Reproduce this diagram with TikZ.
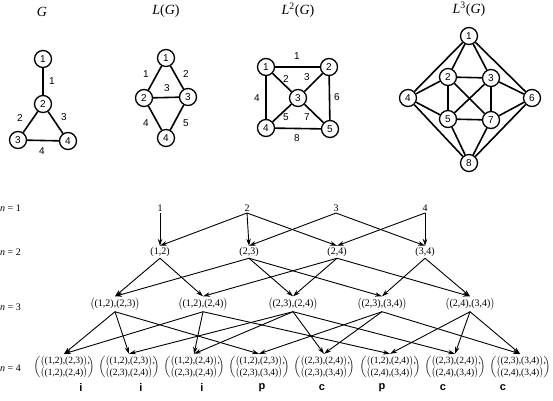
\documentclass[tikz,border=0pt]{standalone}
\usepackage{amsmath}
\usepackage{fontspec}
\setmainfont{Liberation Serif}
\setsansfont{Liberation Sans}
\usepackage{tikz}
\usetikzlibrary{arrows.meta}

\newcommand{\pairof}[2]{\bigl(\text{(#1),(#2)}\bigr)}
\newcommand{\twopair}[4]{$\begin{pmatrix}\pairof{#1}{#2}\rlap{,}\\ \pairof{#3}{#4}\end{pmatrix}$}

\begin{document}
\begin{tikzpicture}[x=1pt,y=-1pt,
  vertex/.style={shape=circle,draw,line width=1.3pt,minimum size=17pt,inner sep=0pt,font=\sffamily\fontsize{10}{12}\selectfont},
  elabel/.style={inner sep=0pt,font=\sffamily\fontsize{10}{12}\selectfont},
  gedge/.style={line width=1.6pt},
  gtitle/.style={font=\fontsize{14}{16}\selectfont},
  rowlabel/.style={anchor=east,inner sep=0pt,font=\fontsize{10}{12}\selectfont},
  entry/.style={inner sep=1.5pt,font=\fontsize{10}{12}\selectfont},
  quad/.style={inner sep=1.5pt,font=\fontsize{9.5}{11.5}\selectfont},
  cls/.style={font=\sffamily\bfseries\fontsize{11}{13}\selectfont},
  arr/.style={-{Stealth[length=7pt,width=4.5pt]},line width=0.9pt}]
\useasboundingbox (0,0) rectangle (553,400);

% the graph G and its line graphs
\node[gtitle] (tg) at (42,12) {\textit{G}};
\node[gtitle] (tl) at (166,11) {\textit{L}(\textit{G})};
\node[gtitle] (tm) at (298,10) {\textit{L}\textsuperscript{2}(\textit{G})};
\node[gtitle] (tt) at (469,9) {\textit{L}\textsuperscript{3}(\textit{G})};

\node[vertex] (g1) at (43,59) {1};
\node[vertex] (g2) at (43,104) {2};
\node[vertex] (g3) at (18,140) {3};
\node[vertex] (g4) at (68,141) {4};
\draw[gedge] (g1) -- (g2);
\draw[gedge] (g2) -- (g3);
\draw[gedge] (g2) -- (g4);
\draw[gedge] (g3) -- (g4);
\node[elabel] (ge1) at (52,81) {1};
\node[elabel] (ge2) at (20,118) {2};
\node[elabel] (ge3) at (64,117) {3};
\node[elabel] (ge4) at (42,151) {4};

\node[vertex] (l1) at (166,58) {1};
\node[vertex] (l2) at (144,98) {2};
\node[vertex] (l3) at (188,97) {3};
\node[vertex] (l4) at (166,138) {4};
\draw[gedge] (l1) -- (l2);
\draw[gedge] (l1) -- (l3);
\draw[gedge] (l2) -- (l3);
\draw[gedge] (l2) -- (l4);
\draw[gedge] (l3) -- (l4);
\node[elabel] (le1) at (146,74) {1};
\node[elabel] (le2) at (186,74) {2};
\node[elabel] (le3) at (167,88) {3};
\node[elabel] (le4) at (146,123) {4};
\node[elabel] (le5) at (186,123) {5};

\node[vertex] (m1) at (266,67) {1};
\node[vertex] (m2) at (329,67) {2};
\node[vertex] (m3) at (298,98) {3};
\node[vertex] (m4) at (266,128) {4};
\node[vertex] (m5) at (330,129) {5};
\draw[gedge] (m1) -- (m2);
\draw[gedge] (m1) -- (m3);
\draw[gedge] (m2) -- (m3);
\draw[gedge] (m1) -- (m4);
\draw[gedge] (m2) -- (m5);
\draw[gedge] (m3) -- (m4);
\draw[gedge] (m3) -- (m5);
\draw[gedge] (m4) -- (m5);
\node[elabel] (me1) at (297,56) {1};
\node[elabel] (me2) at (286,79) {2};
\node[elabel] (me3) at (307,77) {3};
\node[elabel] (me4) at (257,98) {4};
\node[elabel] (me5) at (286,117) {5};
\node[elabel] (me6) at (337,97) {6};
\node[elabel] (me7) at (307,117) {7};
\node[elabel] (me8) at (297,138) {8};

\node[vertex] (t1) at (469,36) {1};
\node[vertex] (t2) at (448,77) {2};
\node[vertex] (t3) at (491,78) {3};
\node[vertex] (t4) at (408,98) {4};
\node[vertex] (t5) at (448,119) {5};
\node[vertex] (t6) at (532,98) {6};
\node[vertex] (t7) at (491,120) {7};
\node[vertex] (t8) at (469,163) {8};
\draw[gedge] (t1) -- (t2);
\draw[gedge] (t1) -- (t3);
\draw[gedge] (t1) -- (t4);
\draw[gedge] (t1) -- (t6);
\draw[gedge] (t2) -- (t3);
\draw[gedge] (t2) -- (t4);
\draw[gedge] (t2) -- (t5);
\draw[gedge] (t2) -- (t7);
\draw[gedge] (t3) -- (t5);
\draw[gedge] (t3) -- (t6);
\draw[gedge] (t3) -- (t7);
\draw[gedge] (t4) -- (t5);
\draw[gedge] (t4) -- (t8);
\draw[gedge] (t5) -- (t7);
\draw[gedge] (t5) -- (t8);
\draw[gedge] (t6) -- (t7);
\draw[gedge] (t6) -- (t8);
\draw[gedge] (t7) -- (t8);

% levels n = 1 .. 4
\node[rowlabel] (n1) at (21,208) {\textit{n} = 1};
\node[rowlabel] (n2) at (21,252) {\textit{n} = 2};
\node[rowlabel] (n3) at (21,307) {\textit{n} = 3};
\node[rowlabel] (n4) at (21,368) {\textit{n} = 4};

\node[entry] (a1) at (160,208) {1};
\node[entry] (a2) at (247,208) {2};
\node[entry] (a3) at (336,208) {3};
\node[entry] (a4) at (425,208) {4};

\node[entry] (b12) at (160,252) {(1,2)};
\node[entry] (b23) at (249,252) {(2,3)};
\node[entry] (b24) at (337,252) {(2,4)};
\node[entry] (b34) at (425,252) {(3,4)};

\node[entry] (c1) at (115,304) {$\pairof{1,2}{2,3}$};
\node[entry] (c2) at (203,304) {$\pairof{1,2}{2,4}$};
\node[entry] (c3) at (293,304) {$\pairof{2,3}{2,4}$};
\node[entry] (c4) at (382,304) {$\pairof{2,3}{3,4}$};
\node[entry] (c5) at (470,304) {$\pairof{2,4}{3,4}$};

\node[quad] (d1) at (64,367) {\twopair{1,2}{2,3}{1,2}{2,4}};
\node[quad] (d2) at (129,367) {\twopair{1,2}{2,3}{2,3}{2,4}};
\node[quad] (d3) at (194,367) {\twopair{1,2}{2,4}{2,3}{2,4}};
\node[quad] (d4) at (259,367) {\twopair{1,2}{2,3}{2,3}{3,4}};
\node[quad] (d5) at (324,367) {\twopair{2,3}{2,4}{2,3}{3,4}};
\node[quad] (d6) at (390,367) {\twopair{1,2}{2,4}{2,4}{3,4}};
\node[quad] (d7) at (455,367) {\twopair{2,3}{2,4}{2,4}{3,4}};
\node[quad] (d8) at (520,367) {\twopair{2,3}{3,4}{2,4}{3,4}};

\node[cls] (k1) at (81,388) {i};
\node[cls] (k2) at (141,388) {i};
\node[cls] (k3) at (202,388) {i};
\node[cls] (k4) at (262,388) {p};
\node[cls] (k5) at (322,388) {c};
\node[cls] (k6) at (382,388) {p};
\node[cls] (k7) at (443,388) {c};
\node[cls] (k8) at (503,388) {c};

\draw[arr] (a1.south) -- (b12.north);
\draw[arr] (a2.south) -- (b12.north);
\draw[arr] (a2.south) -- (b23.north);
\draw[arr] (a2.south) -- (b24.north);
\draw[arr] (a3.south) -- (b23.north);
\draw[arr] (a3.south) -- (b34.north);
\draw[arr] (a4.south) -- (b24.north);
\draw[arr] (a4.south) -- (b34.north);

\draw[arr] (b12.south) -- (c1.north);
\draw[arr] (b12.south) -- (c2.north);
\draw[arr] (b23.south) -- (c1.north);
\draw[arr] (b23.south) -- (c3.north);
\draw[arr] (b23.south) -- (c4.north);
\draw[arr] (b24.south) -- (c2.north);
\draw[arr] (b24.south) -- (c3.north);
\draw[arr] (b24.south) -- (c5.north);
\draw[arr] (b34.south) -- (c4.north);
\draw[arr] (b34.south) -- (c5.north);

\draw[arr] (c1.south) -- (d1.north);
\draw[arr] (c1.south) -- (d2.north);
\draw[arr] (c1.south) -- (d4.north);
\draw[arr] (c2.south) -- (d1.north);
\draw[arr] (c2.south) -- (d3.north);
\draw[arr] (c2.south) -- (d6.north);
\draw[arr] (c3.south) -- (d2.north);
\draw[arr] (c3.south) -- (d3.north);
\draw[arr] (c3.south) -- (d5.north);
\draw[arr] (c3.south) -- (d7.north);
\draw[arr] (c4.south) -- (d4.north);
\draw[arr] (c4.south) -- (d5.north);
\draw[arr] (c4.south) -- (d8.north);
\draw[arr] (c5.south) -- (d6.north);
\draw[arr] (c5.south) -- (d7.north);
\draw[arr] (c5.south) -- (d8.north);
\end{tikzpicture}
\end{document}
